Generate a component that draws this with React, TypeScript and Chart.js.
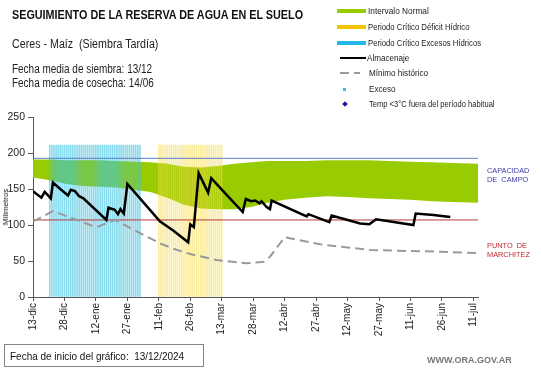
import React, { useEffect, useRef } from "react";
import { Chart, registerables } from "chart.js";
Chart.register(...registerables);

// ---- data ----
const tickLabels = ["13-dic", "28-dic", "12-ene", "27-ene", "11-feb", "26-feb", "13-mar", "28-mar", "12-abr", "27-abr", "12-may", "27-may", "11-jun", "26-jun", "11-jul"];
const tickStep = 15;
const xMax = 212.2;

const bandDays = [0, 8, 16, 24, 32, 40, 48, 56, 64, 72, 80, 88, 96, 104, 112, 120, 130, 140, 150, 160, 170, 180, 190, 200, 212.2];
const bandUpper = [191, 191, 190, 190, 190, 189, 188, 187, 185, 181, 180, 182, 185, 187, 189, 189, 189, 190, 190, 190, 189, 188, 187, 186, 185];
const bandLower = [166, 162, 157, 154, 153, 152, 149, 146, 138, 128, 123, 122, 122, 125, 131, 135, 138, 140, 139, 137, 136, 135, 133, 132, 131];

const almDays = [0, 4, 5.6, 8.5, 9.5, 13, 16.7, 18, 20, 22, 24, 35, 36, 39, 40.5, 41.7, 43.3, 45, 54, 60.5, 67, 74, 75, 76.7, 79, 83.5, 85, 92, 100, 101.5, 104, 106, 108, 109, 111.4, 113, 113.8, 130.5, 131.3, 141.3, 142.4, 156, 160.4, 163.6, 181.4, 182.5, 191, 199];
const almValues = [147, 138, 146, 137, 159, 150, 141, 149, 147, 140, 137, 107, 124, 121, 115, 122, 116, 157, 127, 105, 92, 76, 101, 97, 172, 145, 165, 143, 118, 136, 133, 134, 130, 133, 125, 122, 134, 112, 115, 104, 113, 102, 101, 108, 100, 116, 114, 111];

const minDays = [0, 9.5, 30.3, 39, 60.5, 68, 75, 87.5, 102, 110, 113, 120, 136.8, 160.7, 179.8, 192.5, 212.2];
const minValues = [104.6, 119.4, 96.8, 107, 74.5, 66, 59.7, 51.4, 46.8, 49, 56, 83, 73.2, 65.3, 63.9, 63, 61];

const capacidadCampo = 192.6;
const puntoMarchitez = 107;

const excesoPeriodo = [8, 51];
const deficitPeriodo = [60, 90];
const periodoTope = 211;

const pts = (xs: number[], ys: number[]) => xs.map((x, i) => ({ x, y: ys[i] }));
const stripes = (p: number[]) => {
  const out: { x: number; y: number }[] = [];
  for (let d = p[0]; d <= p[1]; d++) out.push({ x: d, y: periodoTope });
  return out;
};

const FONT = '"Liberation Sans", Arial, sans-serif';

function Txt(props: { x: number; y: number; size: number; sx?: number; bold?: boolean; color?: string; children: React.ReactNode; lh?: number }) {
  const { x, y, size, sx = 1, bold, color = "#222", lh } = props;
  return (
    <div
      style={{
        position: "absolute",
        left: x,
        top: y,
        fontSize: size,
        lineHeight: (lh ?? size) + "px",
        fontWeight: bold ? "bold" : "normal",
        color,
        whiteSpace: "pre",
        transform: `scaleX(${sx})`,
        transformOrigin: "left top",
        fontFamily: FONT,
      }}
    >
      {props.children}
    </div>
  );
}

export default function App() {
  const ref = useRef<HTMLCanvasElement>(null);
  useEffect(() => {
    if (!ref.current) return;
    const chart = new Chart(ref.current, {
      type: "line",
      data: {
        datasets: [
          {
            data: pts(bandDays, bandLower),
            borderWidth: 0,
            pointRadius: 0,
            fill: false,
            order: 10,
          } as any,
          {
            data: pts(bandDays, bandUpper),
            borderWidth: 0,
            pointRadius: 0,
            backgroundColor: "#99cc00",
            fill: "-1",
            order: 10,
          } as any,
          {
            type: "bar",
            data: stripes(excesoPeriodo),
            backgroundColor: "rgba(60,195,225,0.6)",
            barThickness: 1,
            grouped: false,
            borderWidth: 0,
            order: 5,
          } as any,
          {
            type: "bar",
            data: stripes(deficitPeriodo),
            backgroundColor: "rgba(245,220,70,0.5)",
            barThickness: 1,
            grouped: false,
            borderWidth: 0,
            order: 5,
          } as any,
          {
            data: [{ x: 0, y: capacidadCampo }, { x: xMax, y: capacidadCampo }],
            borderColor: "#5a7fc8",
            borderWidth: 1,
            pointRadius: 0,
            fill: false,
            order: 3,
          } as any,
          {
            data: [{ x: 0, y: puntoMarchitez }, { x: xMax, y: puntoMarchitez }],
            borderColor: "#b83a3a",
            borderWidth: 1,
            pointRadius: 0,
            fill: false,
            order: 3,
          } as any,
          {
            data: pts(minDays, minValues),
            borderColor: "#9a9a9a",
            borderWidth: 2,
            borderDash: [9, 5],
            pointRadius: 0,
            fill: false,
            order: 2,
          } as any,
          {
            data: pts(almDays, almValues),
            borderColor: "#000",
            borderWidth: 2.5,
            pointRadius: 0,
            fill: false,
            order: 1,
          } as any,
        ],
      },
      options: {
        responsive: false,
        animation: false,
        events: [],
        layout: { padding: { left: 0, top: 117, right: 63, bottom: 0 } },
        plugins: { legend: { display: false }, tooltip: { enabled: false }, title: { display: false } },
        scales: {
          x: {
            type: "linear",
            min: 0,
            max: xMax,
            offset: false,
            grid: { display: true, drawOnChartArea: false, drawTicks: true, tickLength: 4, color: "#555", offset: false },
            border: { display: true, color: "#555", width: 1 },
            ticks: {
              stepSize: tickStep,
              includeBounds: false,
              autoSkip: false,
              minRotation: 90,
              maxRotation: 90,
              padding: 2,
              color: "#222",
              font: { size: 10, family: FONT },
              callback: (v: any) => {
                const i = Math.round(Number(v) / tickStep);
                return Math.abs(Number(v) - i * tickStep) < 1e-6 ? tickLabels[i] ?? "" : "";
              },
            },
            afterFit: (s: any) => {
              s.height = 71;
            },
          } as any,
          y: {
            type: "linear",
            min: 0,
            max: 250,
            grid: { display: true, drawOnChartArea: false, drawTicks: true, tickLength: 5, color: "#555" },
            border: { display: true, color: "#555", width: 1 },
            ticks: { stepSize: 50, padding: 3, color: "#222", font: { size: 10.5, family: FONT } },
            afterFit: (s: any) => {
              s.width = 33;
            },
          } as any,
        },
      },
    });
    return () => chart.destroy();
  }, []);

  const legendX = 368;
  return (
    <div style={{ position: "fixed", left: 0, top: 0, width: 541, height: 368, background: "#fff", overflow: "hidden", fontFamily: FONT }}>
      <canvas ref={ref} width={541} height={368} style={{ position: "absolute", left: 0, top: 0, width: 541, height: 368 }} />

      <Txt x={12} y={8.5} size={12} sx={0.9} bold color="#111">SEGUIMIENTO DE LA RESERVA DE AGUA EN EL SUELO</Txt>
      <Txt x={12} y={38} size={12} sx={0.89}>Ceres - Maíz  (Siembra Tardía)</Txt>
      <Txt x={12} y={63} size={12} sx={0.83}>Fecha media de siembra: 13/12</Txt>
      <Txt x={12} y={77} size={12} sx={0.83}>Fecha media de cosecha: 14/06</Txt>

      {/* legend */}
      <div style={{ position: "absolute", left: 337, top: 9, width: 29, height: 4, background: "#99cc00" }} />
      <Txt x={legendX} y={6.5} size={9} sx={0.92}>Intervalo Normal</Txt>
      <div style={{ position: "absolute", left: 337, top: 25, width: 29, height: 4, background: "#f5c400" }} />
      <Txt x={legendX} y={22.5} size={9} sx={0.86}>Periodo Crítico Déficit Hídrico</Txt>
      <div style={{ position: "absolute", left: 337, top: 41, width: 29, height: 4, background: "#22b8e8" }} />
      <Txt x={legendX} y={38.5} size={9} sx={0.86}>Periodo Crítico Excesos Hídricos</Txt>
      <div style={{ position: "absolute", left: 340, top: 57, width: 26, height: 2, background: "#000" }} />
      <Txt x={367} y={53.5} size={9} sx={0.9}>Almacenaje</Txt>
      <div style={{ position: "absolute", left: 340, top: 72, width: 9, height: 2, background: "#9a9a9a" }} />
      <div style={{ position: "absolute", left: 354, top: 72, width: 6, height: 2, background: "#9a9a9a" }} />
      <Txt x={369} y={68.5} size={9} sx={0.9}>Mínimo histórico</Txt>
      <div style={{ position: "absolute", left: 343, top: 88, width: 3, height: 3, background: "#3cc0e0" }} />
      <Txt x={369} y={84.5} size={9} sx={0.9}>Exceso</Txt>
      <div style={{ position: "absolute", left: 342.5, top: 101.5, width: 4, height: 4, background: "#1a1a9a", transform: "rotate(45deg)" }} />
      <Txt x={369} y={99.5} size={9} sx={0.84}>Temp &lt;3°C fuera del período habitual</Txt>

      {/* right annotations */}
      <Txt x={487} y={165.6} size={8} sx={0.92} lh={9} color="#3a3aa8">{"CAPACIDAD\nDE  CAMPO"}</Txt>
      <Txt x={487} y={240.6} size={8} sx={0.92} lh={9} color="#c0282d">{"PUNTO  DE\nMARCHITEZ"}</Txt>

      {/* y axis title */}
      <div
        style={{
          position: "absolute",
          left: 6,
          top: 207,
          fontSize: 8,
          lineHeight: "8px",
          color: "#222",
          whiteSpace: "nowrap",
          transform: "translate(-50%,-50%) rotate(-90deg)",
          fontFamily: FONT,
        }}
      >
        Milimetros
      </div>

      {/* bottom box */}
      <div
        style={{
          position: "absolute",
          left: 4,
          top: 344,
          width: 193,
          height: 21,
          border: "1px solid #8c7f8c",
          display: "flex",
          alignItems: "center",
          paddingLeft: 5,
          boxSizing: "content-box",
        }}
      >
        <span style={{ fontSize: 10.5, color: "#111", whiteSpace: "pre", display: "inline-block", transform: "scaleX(0.95)", transformOrigin: "left center" }}>
          Fecha de inicio del gráfico:  13/12/2024
        </span>
      </div>
      <Txt x={427} y={355.5} size={9} bold color="#777">WWW.ORA.GOV.AR</Txt>
    </div>
  );
}
